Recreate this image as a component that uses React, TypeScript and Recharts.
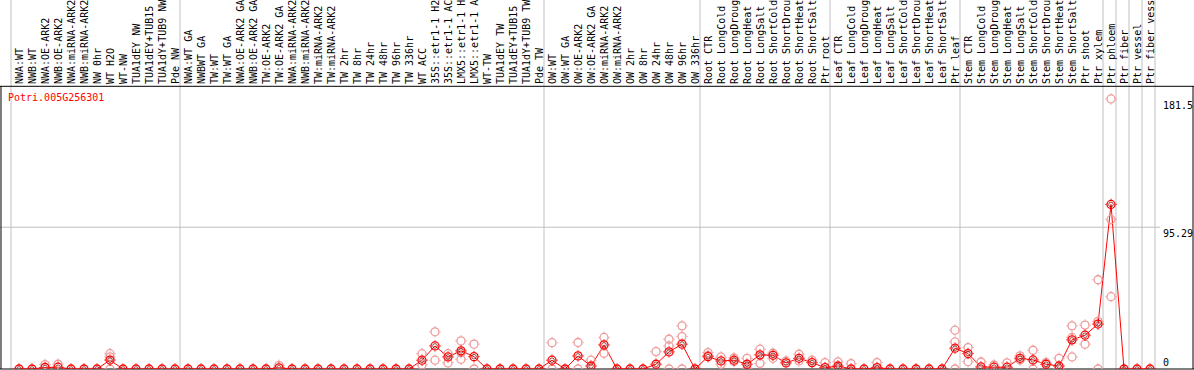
import React from 'react';
import { ComposedChart, Line, Scatter, XAxis, YAxis, ReferenceLine } from 'recharts';

const probe = 'Potri.005G256301';

const samples = [
  'NWA:WT', 'NWB:WT', 'NWA:OE-ARK2', 'NWB:OE-ARK2', 'NWA:miRNA-ARK2', 'NWB:miRNA-ARK2', 'NW 0hr', 'WT H2O', 'WT-NW',
  'TUA1dEY NW', 'TUA1dEY+TUB15', 'TUA1dY+TUB9 NW', 'Pde NW',
  'NWA:WT GA', 'NWBWT GA', 'TW:WT', 'TW:WT GA', 'NWA:OE-ARK2 GA', 'NWB:OE-ARK2 GA', 'TW:OE-ARK2', 'TW:OE-ARK2 GA',
  'NWA:miRNA-ARK2', 'NWB:miRNA-ARK2', 'TW:miRNA-ARK2', 'TW:miRNA-ARK2', 'TW 2hr', 'TW 8hr', 'TW 24hr', 'TW 48hr',
  'TW 96hr', 'TW 336hr', 'WT ACC', '35S::etr1-1 H2', '35S::etr1-1 AC', 'LMX5::etr1-1 H', 'LMX5::etr1-1 A', 'WT-TW',
  'TUA1dEY TW', 'TUA1dEY+TUB15', 'TUA1dY+TUB9 TW', 'Pde TW',
  'OW:WT', 'OW:WT GA', 'OW:OE-ARK2', 'OW:OE-ARK2 GA', 'OW:miRNA-ARK2', 'OW:miRNA-ARK2', 'OW 2hr', 'OW 8hr', 'OW 24hr',
  'OW 48hr', 'OW 96hr', 'OW 336hr',
  'Root CTR', 'Root LongCold', 'Root LongDroug', 'Root LongHeat', 'Root LongSalt', 'Root ShortCold', 'Root ShortDrou',
  'Root ShortHeat', 'Root ShortSalt', 'Ptr root',
  'Leaf CTR', 'Leaf LongCold', 'Leaf LongDroug', 'Leaf LongHeat', 'Leaf LongSalt', 'Leaf ShortCold', 'Leaf ShortDrou',
  'Leaf ShortHeat', 'Leaf ShortSalt', 'Ptr leaf',
  'Stem CTR', 'Stem LongCold', 'Stem LongDroug', 'Stem LongHeat', 'Stem LongSalt', 'Stem ShortCold', 'Stem ShortDrou',
  'Stem ShortHeat', 'Stem ShortSalt', 'Ptr shoot', 'Ptr xylem',
  'Ptr phloem', 'Ptr fiber', 'Ptr vessel', 'Ptr fiber vess',
];

// mean expression per sample
const means = [
  0, 0, 1.0, 1.2, 0, 0, 0, 6.0, 0, 0, 0, 0, 0,
  0, 0, 0, 0, 0, 0, 0, 0.8, 0, 0, 0, 0, 0, 0, 0, 0, 0, 0, 5.9, 15.5, 8.1, 12.2, 8.3, 0, 0, 0, 0, 0,
  5.9, 0, 8.8, 2.0, 16.2, 0, 0, 0, 3.2, 11.5, 16.7, 0,
  8.3, 5.4, 5.9, 3.2, 9.5, 9.2, 4.1, 7.2, 4.3, 0.9,
  2.0, 0, 0, 0.9, 0, 0, 0, 0, 0, 14.0,
  10.4, 1.4, 1.2, 1.2, 7.2, 6.1, 3.2, 2.0, 19.6, 22.7, 30.2,
  110.6, 0, 0, 0,
];

// [sample index, replicate value]
const replicates: [number, number][] = [
  [2, 3.0], [3, 3.2], [7, 10.3], [7, 8.1], [7, 0], [20, 2.5],
  [31, 10.3], [31, 2.7], [32, 25.0], [32, 5.9], [33, 10.3], [33, 4.1], [34, 18.9], [34, 6.5], [34, 11.0],
  [35, 16.7], [35, 0], [41, 17.7], [41, 0], [43, 17.8], [43, 0], [44, 5.9], [45, 21.2], [45, 10.6],
  [49, 11.7], [50, 20.0], [50, 15.5], [50, 0], [51, 29.0], [51, 21.8], [51, 0],
  [53, 11.0], [53, 9.0], [54, 8.1], [54, 3.2], [55, 7.4], [55, 5.0], [56, 7.2], [56, 0], [57, 13.3], [57, 3.8],
  [58, 10.6], [58, 7.2], [59, 5.4], [60, 9.9], [60, 5.4], [61, 5.9], [62, 4.3],
  [63, 4.8], [63, 1.0], [64, 3.6], [66, 4.3], [72, 26.1], [72, 18.2], [72, 0],
  [73, 14.4], [73, 4.9], [74, 4.7], [75, 2.7], [76, 4.1], [77, 8.8], [77, 6.0], [78, 12.6], [78, 0],
  [79, 4.3], [80, 7.2], [80, 0], [81, 29.0], [81, 21.2], [81, 8.1], [82, 29.5], [82, 16.7],
  [83, 60.0], [83, 32.0], [83, 0], [84, 181.5], [84, 100.5], [84, 48.6],
];

const yLabels = [0, 95.29, 181.5];
const gridValue = 95.29;
// last sample of each block (separator drawn after it)
const groupEnds = [-1, 12, 40, 52, 62, 72, 83, 84, 85, 86, 87];

const STEP = 13; // px per sample
const X_MIN = -19 / STEP;
const X_MAX = 87 + 44 / STEP;
const Y_MAX = 248;
const TOP = 190;
const FONT = '"DejaVu Sans Mono", monospace';
const RED = '#ff0000';
const PINK = '#ee9a9a';
const GREY = '#c0c0c0';

const rows = samples.map((name, i) => ({ i, name, mean: means[i] }));
const repRows = replicates.map(([i, v]) => ({ i, v }));

const Marker = ({ cx, cy, color, inner }: any) => {
  if (cx == null || cy == null) return <g />;
  return (
    <g>
      <circle cx={cx} cy={cy} r={4} fill="none" stroke={color} strokeWidth={1.3} />
      <path
        d={`M${cx} ${cy - 4.5}v-1.2M${cx} ${cy + 4.5}v1.2M${cx - 4.5} ${cy}h-1.2M${cx + 4.5} ${cy}h1.2`}
        stroke={color}
        strokeWidth={1}
      />
      {inner && <circle cx={cx} cy={cy} r={2.3} fill="none" stroke={inner} strokeWidth={0.7} />}
    </g>
  );
};

export default function App() {
  return (
    <div style={{ position: 'relative', width: 1194, height: 370 }}>
      <style>{'body{margin:0}'}</style>
      <ComposedChart width={1194} height={370} data={rows} margin={{ top: 0, right: 0, bottom: 1, left: 0 }}>
        <XAxis dataKey="i" type="number" domain={[X_MIN, X_MAX]} allowDataOverflow hide />
        <YAxis type="number" domain={[0, Y_MAX]} allowDataOverflow hide />
        {groupEnds.map((g) => (
          <ReferenceLine key={`g${g}`} x={g + 5 / STEP} stroke={GREY} />
        ))}
        <ReferenceLine
          segment={[{ x: X_MIN, y: gridValue }, { x: (1160 - 19) / STEP, y: gridValue }]}
          stroke={GREY}
        />
        <ReferenceLine y={TOP} stroke="#000" />
        <ReferenceLine y={0} stroke="#000" />
        <ReferenceLine segment={[{ x: -18 / STEP, y: 0 }, { x: -18 / STEP, y: TOP }]} stroke="#000" />
        <ReferenceLine segment={[{ x: (1193 - 19) / STEP, y: 0 }, { x: (1193 - 19) / STEP, y: TOP }]} stroke="#000" />
        {samples.map((name, i) => (
          <ReferenceLine
            key={`s${i}`}
            x={i}
            stroke="none"
            label={(p: any) => {
              const tx = p.viewBox.x + 4;
              return (
                <text
                  x={tx}
                  y={84}
                  transform={`rotate(-90 ${tx} 84)`}
                  fontFamily={FONT}
                  fontSize={10}
                  fill="#000"
                  textAnchor="start"
                >
                  {name}
                </text>
              );
            }}
          />
        ))}
        {yLabels.map((v) => (
          <ReferenceLine
            key={`y${v}`}
            y={v}
            stroke="none"
            label={(p: any) => {
              const vb = p.viewBox;
              return (
                <text x={vb.x + vb.width - 31} y={vb.y + (v === 0 ? -3 : 10)} fontFamily={FONT} fontSize={10} fill="#000">
                  {String(v)}
                </text>
              );
            }}
          />
        ))}
        <Scatter
          data={repRows}
          dataKey="v"
          isAnimationActive={false}
          shape={(p: any) => <Marker cx={p.cx} cy={p.cy} color={PINK} />}
        />
        <Line
          dataKey="mean"
          type="linear"
          stroke={RED}
          strokeWidth={1}
          isAnimationActive={false}
          activeDot={false}
          dot={(p: any) => <Marker key={`m${p.index}`} cx={p.cx} cy={p.cy} color={RED} inner="#700000" />}
        />
      </ComposedChart>
      <div
        style={{
          position: 'absolute',
          left: 8,
          top: 93,
          fontFamily: FONT,
          fontSize: 10,
          lineHeight: '10px',
          color: RED,
        }}
      >
        {probe}
      </div>
    </div>
  );
}
